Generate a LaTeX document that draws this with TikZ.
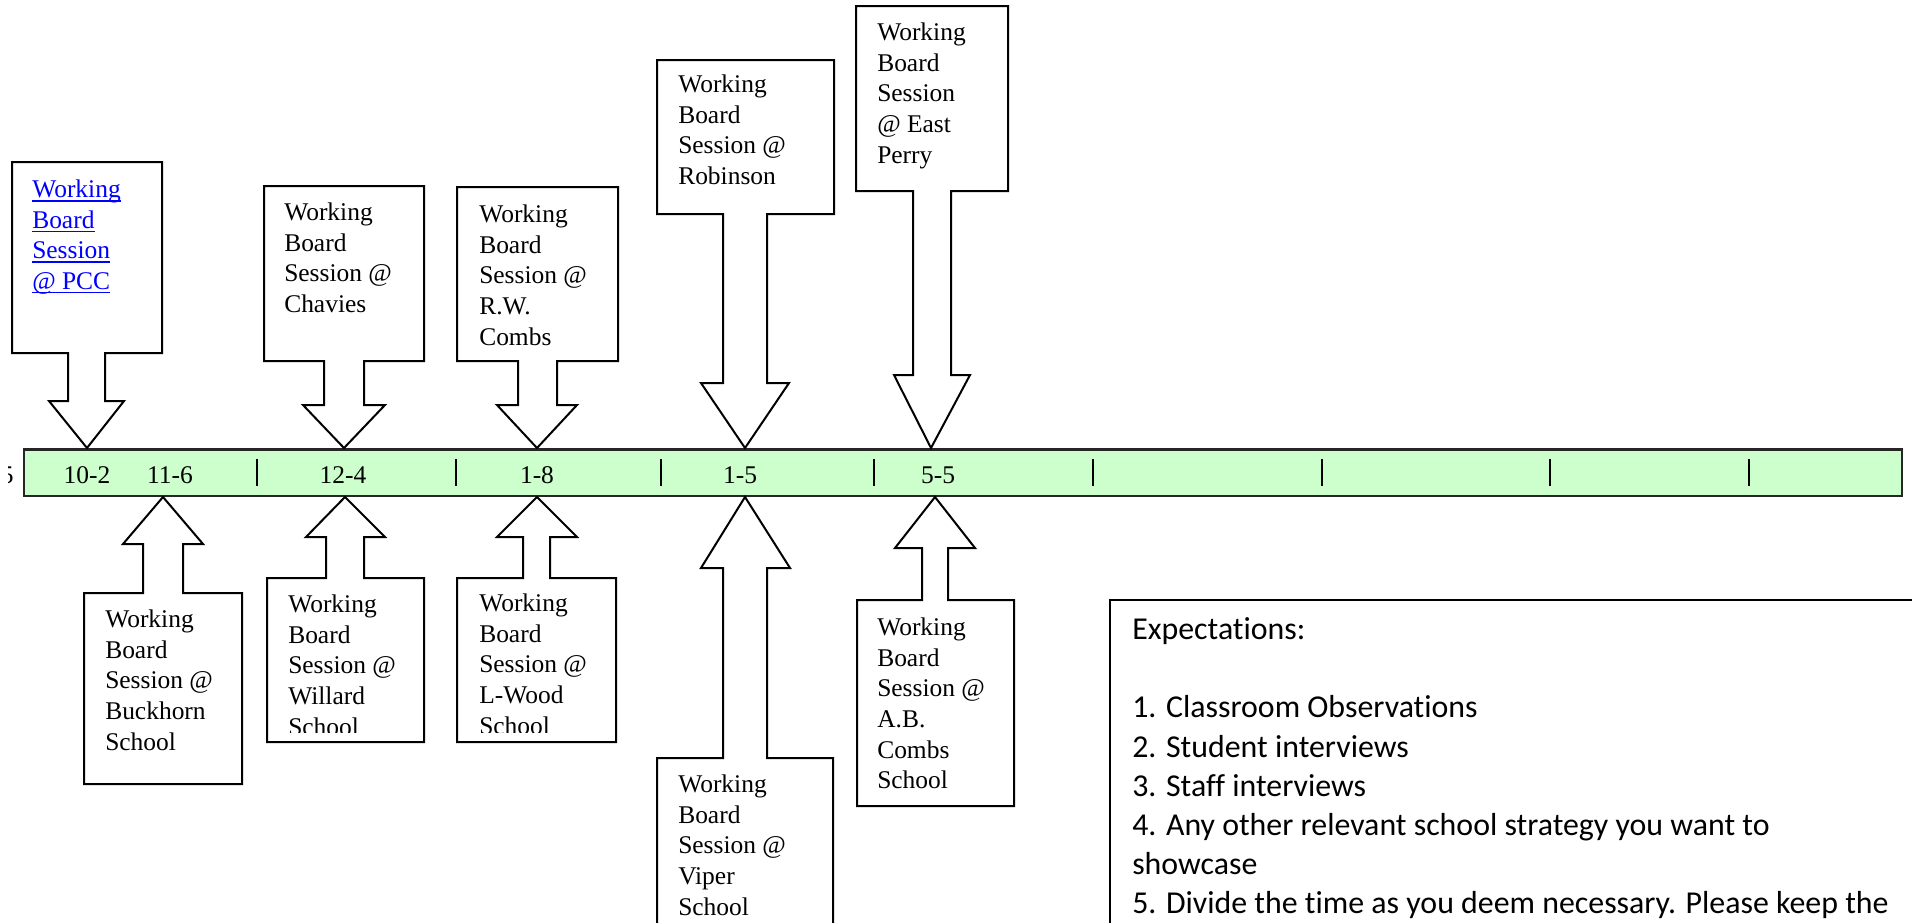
\documentclass[tikz,border=0pt]{standalone}
\usepackage{fontspec}
\setmainfont{Liberation Serif}
\newfontfamily\calibrifont[Ligatures=NoCommon]{Carlito}

\definecolor{barfill}{HTML}{CCFFCC}
\definecolor{linkblue}{HTML}{0000FF}

\begin{document}
\begin{tikzpicture}[x=0.75pt,y=-0.75pt,
			callout/.style={draw,line width=1.5pt,fill=white,line join=miter},
			session text/.style={anchor=north west,yshift=12.8pt,align=left,inner sep=0pt,
				font=\fontsize{19.1}{22.9}\selectfont,execute at begin node=\strut},
			date label/.style={anchor=base,inner sep=0pt,font=\fontsize{19.1}{22.9}\selectfont},
			note text/.style={anchor=north west,yshift=17pt,align=left,inner sep=0pt,
				font=\calibrifont\fontsize{23.9}{29.4}\selectfont,execute at begin node=\strut}
			]
			
			\def \tipdown {448};
			\def \tipup {497};
			\def\linkline#1{\setbox0=\hbox{#1}\rlap{\rule[-2.8pt]{\wd0}{1pt}}\box0}
			
			\useasboundingbox (0,0) rectangle (1912,922);
			
			% timeline bar
			\draw[draw=black!85,line width=1.8pt,fill=barfill] (24,449.5) rectangle (1902,496);
			\foreach \t in {257,456,661,874,1093,1322,1550,1749}
				\draw[line width=1.5pt] (\t,459) -- (\t,486);
			
			\foreach \x/\d/\n in {87/10-2/1,170/11-6/2,343/12-4/3,537/1-8/4,740/1-5/5,938/5-5/6}
				\node[date label] (date\n) at (\x,483) {\d};
			\begin{scope}
				\clip (8,449) rectangle (24,497);
				\node[date label,anchor=base east] (date0) at (14,483) {5};
			\end{scope}
			
			% callouts above the bar
			\foreach \xl/\xr/\yt/\yb/\ka/\kb/\hy/\hl/\hr/\tx in {12/162/162/353/68/105/401/49/124/87,
					264/424/186/361/324/364/405/303/385/344,
					457/618/187/361/518/557/405/497/577/537,
					657/834/60/214/723/767/383/701/789/745,
					856/1008/6/191/913/951/375/894/970/931}
				\draw[callout] (\xl,\yt) -- (\xr,\yt) -- (\xr,\yb) -- (\kb,\yb) -- (\kb,\hy) -- (\hr,\hy)
					-- (\tx,\tipdown) -- (\hl,\hy) -- (\ka,\hy) -- (\ka,\yb) -- (\xl,\yb) -- cycle;
			
			% callouts below the bar
			\foreach \xl/\xr/\yt/\yb/\ka/\kb/\hy/\hl/\hr/\tx in {84/242/593/784/143/183/544/123/203/163,
					267/424/578/742/326/364/537/306/385/345,
					457/616/578/742/523/550/537/497/577/537,
					657/833/758/960/723/767/568/701/790/745,
					857/1014/600/806/922/948/548/895/975/935}
				\draw[callout] (\xl,\yb) -- (\xl,\yt) -- (\ka,\yt) -- (\ka,\hy) -- (\hl,\hy) -- (\tx,\tipup)
					-- (\hr,\hy) -- (\kb,\hy) -- (\kb,\yt) -- (\xr,\yt) -- (\xr,\yb) -- cycle;
			
			\node[session text,text=linkblue] (pcc) at (32,197)
				{\linkline{Working}\\ \linkline{Board}\\ \linkline{Session}\\ \linkline{@ PCC}};
			\node[session text] (chavies) at (284,220) {Working\\ Board\\ Session @\\ Chavies};
			\node[session text] (rwcombs) at (479,222) {Working\\ Board\\ Session @\\ R.W.\\ Combs};
			\node[session text] (robinson) at (678,92) {Working\\ Board\\ Session @\\ Robinson};
			\node[session text] (eastperry) at (877,40) {Working\\ Board\\ Session\\ @ East\\ Perry};
			
			\node[session text] (buckhorn) at (105,627) {Working\\ Board\\ Session @\\ Buckhorn\\ School};
			\begin{scope}
				\clip (267,578) rectangle (424,732);
				\node[session text] (willard) at (288,612) {Working\\ Board\\ Session @\\ Willard\\ School};
			\end{scope}
			\begin{scope}
				\clip (457,578) rectangle (616,732);
				\node[session text] (lwood) at (479,611) {Working\\ Board\\ Session @\\ L-Wood\\ School};
			\end{scope}
			\begin{scope}
				\clip (657,758) rectangle (833,918);
				\node[session text] (viper) at (678,792) {Working\\ Board\\ Session @\\ Viper\\ School};
			\end{scope}
			\node[session text] (abcombs) at (877,635) {Working\\ Board\\ Session @\\ A.B.\\ Combs\\ School};
			
			% expectations
			\draw[line width=1.5pt] (1110,600) rectangle (1940,960);
			\node[note text] (expect) at (1132,640) {Expectations:\\[29.4pt]
				1. Classroom Observations\\
				2. Student interviews\\
				3. Staff interviews\\
				4. Any other relevant school strategy you want to\\
				showcase\\
				5. Divide the time as you deem necessary. Please keep the};
			\end{tikzpicture}
\end{document}
